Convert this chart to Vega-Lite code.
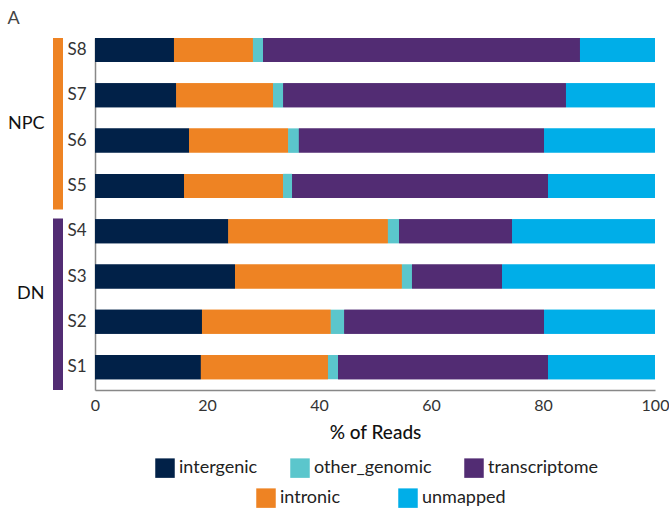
{
  "$schema": "https://vega.github.io/schema/vega-lite/v6.json",
  "padding": {"top": 10, "left": 7, "right": 0, "bottom": 0},
  "title": {"text": "A", "anchor": "start", "fontSize": 18, "font": "Lato", "fontWeight": "normal", "color": "#444", "offset": 10, "frame": "bounds"},
  "config": {
    "font": "Lato",
    "view": {"stroke": null},
    "axis": {"grid": false, "ticks": false, "domainColor": "#888", "labelColor": "#333", "labelFont": "Lato"},
    "legend": {"symbolType": "square", "symbolSize": 380, "symbolStrokeWidth": 0, "labelFontSize": 18, "labelFont": "Lato", "labelColor": "#222", "labelOffset": 4, "columnPadding": 32, "direction": "horizontal", "orient": "none"}
  },
  "datasets": {
    "groups": [{"group": "NPC"}, {"group": "DN"}],
    "reads": [
      {"sample": "S8", "group": "NPC", "category": "intergenic", "pct": 14.1},
      {"sample": "S8", "group": "NPC", "category": "intronic", "pct": 14.1},
      {"sample": "S8", "group": "NPC", "category": "other_genomic", "pct": 1.8},
      {"sample": "S8", "group": "NPC", "category": "transcriptome", "pct": 56.6},
      {"sample": "S8", "group": "NPC", "category": "unmapped", "pct": 13.4},
      {"sample": "S7", "group": "NPC", "category": "intergenic", "pct": 14.5},
      {"sample": "S7", "group": "NPC", "category": "intronic", "pct": 17.3},
      {"sample": "S7", "group": "NPC", "category": "other_genomic", "pct": 1.8},
      {"sample": "S7", "group": "NPC", "category": "transcriptome", "pct": 50.5},
      {"sample": "S7", "group": "NPC", "category": "unmapped", "pct": 15.9},
      {"sample": "S6", "group": "NPC", "category": "intergenic", "pct": 16.8},
      {"sample": "S6", "group": "NPC", "category": "intronic", "pct": 17.7},
      {"sample": "S6", "group": "NPC", "category": "other_genomic", "pct": 1.9},
      {"sample": "S6", "group": "NPC", "category": "transcriptome", "pct": 43.8},
      {"sample": "S6", "group": "NPC", "category": "unmapped", "pct": 19.8},
      {"sample": "S5", "group": "NPC", "category": "intergenic", "pct": 15.9},
      {"sample": "S5", "group": "NPC", "category": "intronic", "pct": 17.7},
      {"sample": "S5", "group": "NPC", "category": "other_genomic", "pct": 1.6},
      {"sample": "S5", "group": "NPC", "category": "transcriptome", "pct": 45.7},
      {"sample": "S5", "group": "NPC", "category": "unmapped", "pct": 19.1},
      {"sample": "S4", "group": "DN", "category": "intergenic", "pct": 23.8},
      {"sample": "S4", "group": "DN", "category": "intronic", "pct": 28.5},
      {"sample": "S4", "group": "DN", "category": "other_genomic", "pct": 2.0},
      {"sample": "S4", "group": "DN", "category": "transcriptome", "pct": 20.2},
      {"sample": "S4", "group": "DN", "category": "unmapped", "pct": 25.5},
      {"sample": "S3", "group": "DN", "category": "intergenic", "pct": 25.0},
      {"sample": "S3", "group": "DN", "category": "intronic", "pct": 29.8},
      {"sample": "S3", "group": "DN", "category": "other_genomic", "pct": 1.8},
      {"sample": "S3", "group": "DN", "category": "transcriptome", "pct": 16.1},
      {"sample": "S3", "group": "DN", "category": "unmapped", "pct": 27.3},
      {"sample": "S2", "group": "DN", "category": "intergenic", "pct": 19.1},
      {"sample": "S2", "group": "DN", "category": "intronic", "pct": 23.0},
      {"sample": "S2", "group": "DN", "category": "other_genomic", "pct": 2.4},
      {"sample": "S2", "group": "DN", "category": "transcriptome", "pct": 35.7},
      {"sample": "S2", "group": "DN", "category": "unmapped", "pct": 19.8},
      {"sample": "S1", "group": "DN", "category": "intergenic", "pct": 18.9},
      {"sample": "S1", "group": "DN", "category": "intronic", "pct": 22.7},
      {"sample": "S1", "group": "DN", "category": "other_genomic", "pct": 1.8},
      {"sample": "S1", "group": "DN", "category": "transcriptome", "pct": 37.5},
      {"sample": "S1", "group": "DN", "category": "unmapped", "pct": 19.1}
    ]
  },
  "spacing": 3,
  "resolve": {"scale": {"x": "independent", "y": "independent", "color": "independent"}, "legend": {"color": "independent"}},
  "hconcat": [
    {
      "width": 10,
      "height": 352,
      "data": {"name": "groups"},
      "mark": {"type": "bar"},
      "encoding": {
        "y": {
          "field": "group", "type": "nominal", "sort": ["NPC", "DN"],
          "scale": {"paddingInner": 0.05, "paddingOuter": 0},
          "axis": {
            "title": null, "domain": false, "labelFontSize": 18, "labelColor": "#111", "labelPadding": 9,
            "labelOffset": {"condition": {"test": "datum.value === 'DN'", "value": -10}, "value": 0}
          }
        },
        "color": {
          "field": "group", "type": "nominal",
          "scale": {"domain": ["NPC", "DN"], "range": ["#EE8323", "#522C73"]},
          "legend": null
        }
      }
    },
    {
      "width": 560,
      "height": 352,
      "data": {"name": "reads"},
      "encoding": {
        "y": {
          "field": "sample", "type": "nominal",
          "sort": ["S8", "S7", "S6", "S5", "S4", "S3", "S2", "S1"],
          "scale": {"paddingInner": 0.47, "paddingOuter": 0.12, "align": 0},
          "axis": {"title": null, "labelFontSize": 17, "labelPadding": 9, "domainWidth": 1.5}
        },
        "x": {
          "field": "pct", "type": "quantitative", "stack": "zero",
          "scale": {"domain": [0, 100], "nice": false},
          "axis": {
            "title": "% of Reads", "values": [0, 20, 40, 60, 80, 100], "labelFlush": false,
            "labelFontSize": 16, "labelPadding": 7, "domainWidth": 1.5,
            "titleFontSize": 19, "titleFontWeight": 500, "titleColor": "#111", "titlePadding": 10
          }
        },
        "order": {"field": "category", "sort": "ascending"}
      },
      "layer": [
        {
          "mark": {"type": "bar"},
          "encoding": {
            "color": {
              "field": "category", "type": "nominal",
              "scale": {
                "domain": ["intergenic", "intronic", "other_genomic", "transcriptome", "unmapped"],
                "range": ["#012148", "#EE8323", "#5BC6CC", "#522C73", "#00AEE8"]
              },
              "legend": {"title": null, "values": ["intergenic", "other_genomic", "transcriptome"], "legendX": 60, "legendY": 420, "columnPadding": 32}
            }
          }
        },
        {
          "mark": {"type": "bar"},
          "encoding": {
            "color": {
              "field": "category", "type": "nominal",
              "scale": {
                "domain": ["intergenic", "intronic", "other_genomic", "transcriptome", "unmapped"],
                "range": ["#012148", "#EE8323", "#5BC6CC", "#522C73", "#00AEE8"]
              },
              "legend": {"title": null, "values": ["intronic", "unmapped"], "legendX": 161, "legendY": 450, "columnPadding": 57}
            }
          }
        }
      ],
      "resolve": {"scale": {"color": "independent"}, "legend": {"color": "independent"}}
    }
  ]
}
